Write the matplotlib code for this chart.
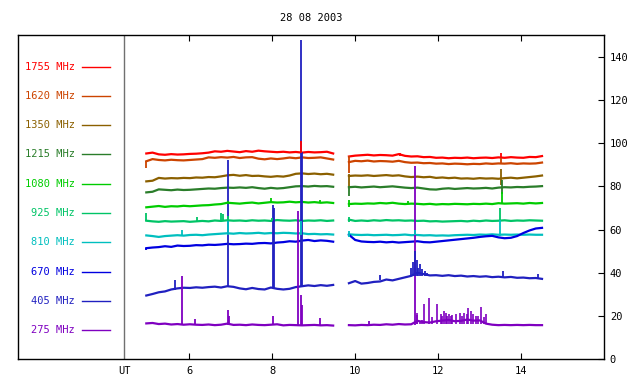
"""
Solar radio flux, 28 08 2003 - ten fixed frequencies, stacked.
"""
import numpy as np
import matplotlib
matplotlib.use("Agg")
import matplotlib.pyplot as plt

freqs = [1755, 1620, 1350, 1215, 1080, 925, 810, 670, 405, 275]
plotColors = ['#ff0000', '#cc4400', '#8b6000', '#2a7d2a', '#00cc00',
              '#00c466', '#00bfbf', '#0000e0', '#2020c0', '#7f00c0']

# morning run 4.97 .. 9.47 UT and afternoon run 9.85 .. 14.5 UT
t1 = np.linspace(4.97, 9.47, 31)
t2 = np.linspace(9.85, 14.5, 32)

seg1 = {
    1755: [95.2, 95.6, 94.8, 94.6, 94.9, 94.7, 94.8, 95.0, 95.1, 95.3, 95.6, 96.2, 96.0, 96.4, 96.1, 95.8,
           96.3, 96.0, 96.5, 96.2, 96.0, 95.8, 96.0, 95.7, 95.9, 95.6, 95.9, 95.7, 95.8, 96.0, 95.2],
    1620: [91.6, 92.6, 92.2, 92.0, 92.3, 92.1, 92.0, 92.2, 92.4, 92.6, 93.4, 93.2, 93.5, 93.3, 93.6, 93.1,
           93.4, 93.5, 92.8, 92.5, 92.9, 92.6, 92.9, 93.3, 93.0, 93.4, 93.1, 93.2, 93.4, 92.9, 92.4],
    1350: [82.3, 82.6, 83.9, 83.6, 83.8, 83.7, 83.9, 83.8, 84.1, 84.0, 84.3, 84.2, 84.6, 85.1, 85.3, 84.9,
           85.2, 84.8, 84.9, 84.6, 84.4, 84.7, 84.5, 85.0, 85.8, 86.0, 85.7, 85.9, 85.6, 85.8, 85.4],
    1215: [77.2, 77.5, 78.6, 78.4, 78.2, 78.5, 78.3, 78.4, 78.6, 78.8, 79.0, 78.9, 79.2, 79.4, 79.3, 79.5,
           79.3, 79.6, 79.2, 78.9, 79.3, 79.0, 79.2, 79.6, 80.0, 80.1, 79.9, 80.2, 80.0, 80.1, 79.8],
    1080: [70.3, 70.6, 70.9, 70.5, 70.8, 70.7, 71.0, 70.8, 71.0, 71.2, 71.3, 71.6, 71.8, 72.4, 72.2, 72.0,
           72.3, 72.5, 72.1, 72.4, 72.7, 72.5, 72.6, 72.9, 72.6, 72.8, 72.5, 72.7, 72.4, 72.6, 72.3],
    925: [64.1, 63.8, 63.6, 63.9, 63.7, 63.8, 63.9, 63.6, 63.8, 64.0, 63.8, 64.2, 64.0, 64.3, 64.1, 64.2,
          64.0, 64.3, 64.1, 64.2, 64.0, 64.4, 64.2, 64.1, 64.3, 64.0, 64.2, 64.1, 64.3, 64.0, 64.2],
    810: [57.3, 57.0, 56.6, 57.0, 57.2, 57.4, 57.2, 57.5, 57.6, 57.4, 57.7, 57.9, 58.1, 58.3, 58.1, 58.4,
          58.2, 58.3, 58.5, 58.2, 58.4, 58.3, 58.5, 58.4, 58.2, 58.3, 57.9, 58.0, 57.8, 57.9, 57.7],
    670: [51.4, 51.7, 51.9, 52.3, 52.0, 52.6, 52.4, 52.5, 52.8, 52.7, 53.0, 52.9, 53.1, 53.4, 53.2, 53.3,
          53.5, 53.4, 53.7, 53.8, 53.6, 54.0, 54.2, 54.6, 54.4, 54.9, 55.2, 54.7, 55.0, 54.8, 54.4],
    405: [29.5, 30.2, 31.0, 31.4, 32.3, 32.8, 33.1, 33.0, 33.3, 33.1, 33.4, 33.6, 33.2, 33.8, 33.5, 32.8,
          32.4, 33.0, 32.5, 32.3, 33.2, 32.6, 32.3, 32.6, 33.4, 33.8, 34.2, 33.9, 34.3, 34.0, 34.4],
    275: [16.6, 16.8, 16.3, 16.5, 16.1, 16.3, 16.0, 16.2, 16.0, 15.9, 16.1, 15.8, 16.0, 16.5, 15.9, 16.0,
          15.8, 16.1, 15.9, 15.8, 16.0, 16.2, 15.7, 15.9, 15.8, 15.7, 15.8, 15.9, 15.7, 15.8, 15.6],
}

seg2 = {
    1755: [93.8, 94.2, 94.4, 94.6, 94.3, 94.5, 94.4, 94.2, 94.9, 94.1, 93.8, 93.9, 93.5, 93.6, 93.2, 93.3,
           93.0, 93.2, 93.1, 93.3, 93.0, 93.2, 93.3, 93.1, 93.4, 93.2, 93.5, 93.3, 93.2, 93.6, 93.5, 94.0],
    1620: [91.2, 91.8, 91.6, 91.9, 91.5, 91.7, 91.6, 91.4, 91.8, 91.2, 90.9, 91.0, 90.7, 90.8, 90.5, 90.6,
           90.3, 90.5, 90.4, 90.2, 90.4, 90.3, 90.6, 90.4, 90.6, 90.5, 90.7, 90.4, 90.6, 90.5, 90.6, 91.0],
    1350: [84.8, 85.0, 84.9, 85.1, 84.8, 85.0, 85.2, 84.9, 85.1, 84.6, 84.3, 84.5, 84.2, 84.4, 83.9, 84.1,
           83.8, 84.0, 83.6, 83.7, 83.5, 83.8, 83.6, 83.7, 83.5, 83.8, 84.0, 83.7, 84.0, 84.3, 84.6, 85.0],
    1215: [79.6, 79.8, 79.5, 79.7, 79.9, 79.6, 79.8, 80.0, 79.7, 79.4, 79.2, 79.4, 79.0, 78.6, 78.5, 78.9,
           79.1, 78.8, 79.0, 79.2, 79.0, 79.1, 79.3, 79.0, 79.4, 79.6, 79.5, 79.7, 79.6, 79.8, 79.9, 80.1],
    1080: [71.8, 72.0, 71.9, 72.1, 72.0, 72.3, 72.1, 72.4, 72.0, 71.8, 72.0, 71.9, 71.7, 71.9, 71.6, 71.8,
           71.7, 71.9, 71.8, 71.7, 71.9, 71.8, 72.0, 71.8, 72.2, 72.0, 72.1, 72.2, 72.0, 72.3, 72.1, 72.3],
    925: [64.6, 64.0, 64.2, 64.0, 64.3, 64.1, 64.4, 64.2, 64.3, 64.1, 64.2, 64.0, 64.1, 63.8, 63.9, 63.7,
          63.8, 63.9, 64.0, 63.8, 64.1, 63.9, 64.2, 64.0, 64.1, 64.3, 64.0, 64.2, 64.1, 64.3, 64.2, 64.1],
    810: [57.8, 57.6, 57.5, 57.6, 57.4, 57.5, 57.6, 57.4, 57.5, 57.7, 57.4, 57.5, 57.3, 57.4, 57.2, 57.3,
          57.2, 57.4, 57.5, 57.6, 57.5, 57.7, 57.6, 57.8, 57.6, 57.7, 57.6, 57.7, 57.6, 57.7, 57.6, 57.6],
    670: [57.6, 55.2, 54.5, 54.3, 54.2, 54.4, 54.1, 54.3, 54.0, 54.2, 54.4, 54.6, 54.2, 54.1, 54.4, 54.7,
          55.0, 55.3, 55.6, 55.9, 56.2, 56.6, 56.9, 57.1, 56.4, 56.0, 56.2, 57.0, 58.4, 59.6, 60.5, 60.8],
    405: [35.2, 36.2, 35.0, 35.3, 35.8, 36.0, 36.9, 36.5, 37.2, 37.9, 38.6, 40.0, 39.4, 38.8, 38.9, 38.6,
          38.9, 38.5, 38.7, 38.3, 38.5, 38.2, 38.4, 38.0, 38.2, 37.9, 38.1, 37.7, 37.8, 37.5, 37.6, 37.2],
    275: [15.8, 15.7, 15.9, 15.8, 16.0, 15.9, 16.2, 16.0, 16.3, 16.1, 16.2, 17.8, 17.2, 17.0, 17.6, 17.9,
          18.2, 17.6, 17.8, 18.4, 17.9, 18.0, 16.5, 16.0, 15.8, 15.9, 15.8, 15.9, 15.8, 15.9, 15.8, 15.8],
}

# short bursts: time (UT), channel, from, to
spike_t = [4.97, 4.97, 4.97, 5.65, 5.83, 5.83, 6.14, 6.19, 6.78, 6.81, 6.94, 6.94, 6.94, 6.94, 6.94, 6.96,
           8.03, 8.05, 8.03, 8.00, 7.98, 8.63, 8.69, 8.71, 8.69, 8.71, 8.69, 8.69, 9.15, 9.15,
           9.85, 9.85, 9.85, 9.85, 9.85, 9.85, 10.34, 10.60, 11.07, 11.27, 11.45, 11.45,
           11.35, 11.39, 11.44, 11.48, 11.52, 11.56, 11.62, 11.67, 11.73,
           13.52, 13.52, 13.52, 13.54, 13.54, 13.50, 13.50, 13.55, 14.40]
spike_f = [1620, 925, 670, 405, 275, 810, 275, 925, 925, 925, 405, 810, 925, 1080, 275, 275,
           405, 405, 275, 925, 1080, 275, 405, 405, 275, 275, 1755, 810, 275, 1080,
           1620, 1350, 1215, 1080, 925, 810, 275, 405, 1755, 1080, 275, 810,
           405, 405, 405, 405, 405, 405, 405, 405, 405,
           1755, 1620, 1350, 1215, 1080, 925, 810, 405, 405]
spike_lo = [88.7, 64.1, 50.5, 32.0, 16.0, 57.3, 16.0, 63.8, 63.9, 63.9, 33.6, 57.5, 64.0, 72.0, 16.0, 16.0,
            32.8, 32.8, 16.0, 64.0, 72.5, 15.8, 33.6, 33.6, 15.8, 15.8, 95.6, 57.5, 15.8, 72.5,
            86.0, 79.3, 75.4, 70.5, 63.5, 56.5, 15.8, 36.5, 94.2, 72.0, 16.0, 57.5,
            38.6, 38.6, 38.6, 38.6, 38.6, 38.6, 38.6, 38.6, 38.6,
            93.3, 90.5, 80.7, 76.5, 72.0, 64.0, 57.0, 37.9, 37.4]
spike_hi = [91.6, 67.9, 51.4, 36.8, 38.3, 60.0, 18.7, 65.8, 67.7, 67.0, 92.4, 65.5, 66.1, 73.4, 22.9, 20.0,
            71.5, 70.0, 19.8, 65.4, 74.5, 68.4, 147.6, 96.0, 29.8, 25.0, 100.9, 64.0, 19.1, 73.9,
            94.0, 85.5, 80.0, 73.5, 65.8, 59.5, 17.8, 38.9, 95.5, 73.0, 89.6, 60.0,
            42.4, 45.0, 50.2, 46.0, 42.0, 44.0, 41.7, 40.8, 40.0,
            95.5, 93.0, 88.1, 83.1, 77.4, 70.0, 64.5, 40.7, 39.6]

# 275 MHz noise storm after 11.4 UT
burst_t = [11.48, 11.50, 11.55, 11.60, 11.66, 11.77, 11.86, 11.98, 12.06, 12.10, 12.14, 12.18, 12.22,
           12.26, 12.30, 12.34, 12.42, 12.53, 12.58, 12.63, 12.70, 12.72, 12.78, 12.83, 12.90, 12.95,
           13.04, 13.10, 13.14]
burst_hi = [21.3, 20.5, 17.9, 18.2, 25.6, 28.3, 19.5, 25.6, 20.9, 20.1, 22.4, 21.3, 20.1,
            21.0, 19.8, 20.6, 20.9, 21.4, 19.8, 21.3, 21.0, 23.6, 22.4, 20.9, 20.1, 19.8,
            24.2, 19.5, 20.9]

UT_LINE = 4.434
monoFont = 'DejaVu Sans Mono'
fsize = 7.5

fig = plt.figure(figsize=(6.4, 3.84), dpi=100)
ax = fig.add_axes([18 / 640, 1 - 359.3 / 384, 586.3 / 640, 324.3 / 384])

for i, f in enumerate(freqs):
    c = plotColors[i]
    ax.plot(t1, seg1[f], color=c, lw=1.6, zorder=2)
    ax.plot(t2, seg2[f], color=c, lw=1.6, zorder=2)

for k in range(len(spike_t)):
    c = plotColors[freqs.index(spike_f[k])]
    ax.vlines(spike_t[k], spike_lo[k], spike_hi[k], color=c, lw=1.3, zorder=3)

ax.vlines(burst_t, 16.5, burst_hi, color=plotColors[-1], lw=1.2, zorder=3)

# channel key on the left
for i, f in enumerate(freqs):
    y = 135.4 - 13.55 * i
    ax.text(3.25, y, '%d MHz' % f, color=plotColors[i], ha='right', va='center',
            family=monoFont, fontsize=fsize)
    ax.plot([3.42, 4.10], [y, y], color=plotColors[i], lw=1.0)

ax.axvline(UT_LINE, color='#707070', lw=1.0)

ax.set_xlim(1.88, 16.0)
ax.set_ylim(0, 150)

ax.set_xticks([UT_LINE, 6, 8, 10, 12, 14])
ax.set_xticklabels(['UT', '6', '8', '10', '12', '14'], family=monoFont, fontsize=fsize)
ax.tick_params(axis='x', direction='in', length=4.5, top=True, bottom=True, pad=5, width=0.8)
xt = ax.xaxis.get_major_ticks()[0]
xt.tick1line.set_visible(False)
xt.tick2line.set_visible(False)

ax.yaxis.tick_right()
ax.set_yticks(range(0, 141, 20))
ax.set_yticklabels([str(v) for v in range(0, 141, 20)], family=monoFont, fontsize=fsize)
ax.tick_params(axis='y', direction='in', length=4.5, left=False, right=True, pad=4, width=0.8)

for s in ax.spines.values():
    s.set_linewidth(1.0)

ax.set_title('28 08 2003', family=monoFont, fontsize=fsize, pad=10)

plt.savefig('out.png', dpi=100)
